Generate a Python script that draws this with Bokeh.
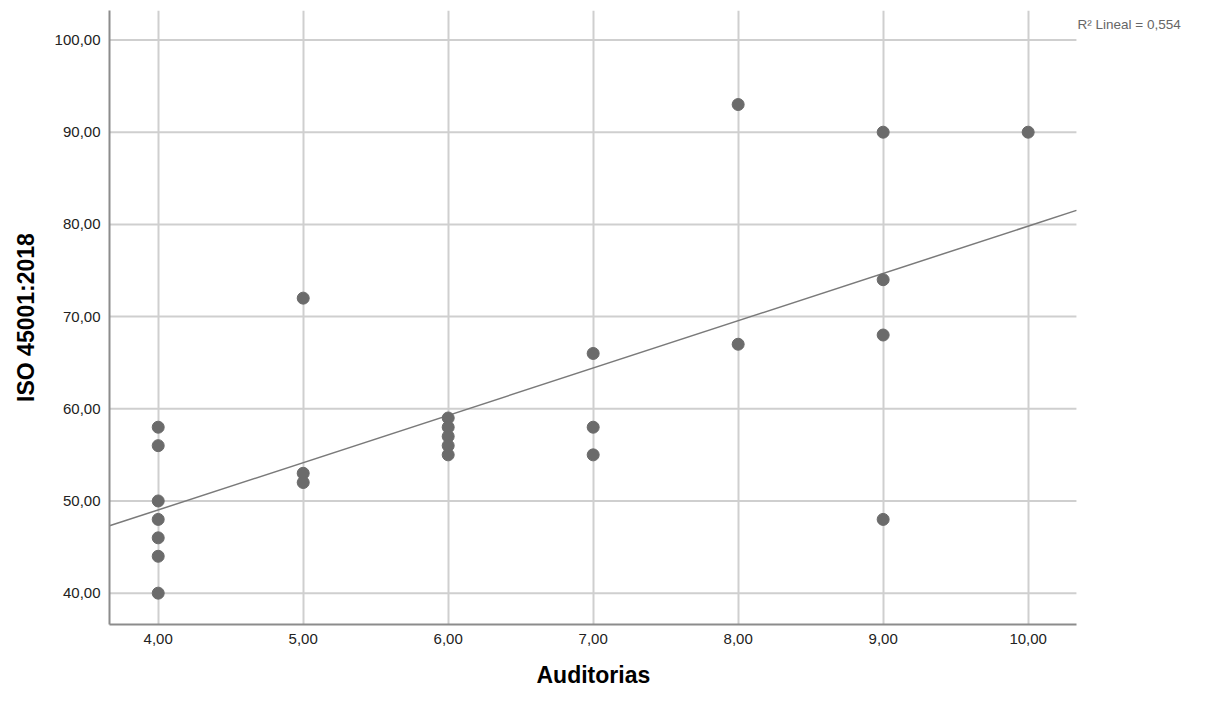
import numpy as np
from bokeh.plotting import figure
from bokeh.models import FixedTicker, CustomJSTickFormatter, Range1d, Label, Title
from bokeh.embed import file_html
from bokeh.resources import INLINE

auditorias = [4, 4, 4, 4, 4, 4, 4,
              5, 5, 5,
              6, 6, 6, 6, 6,
              7, 7, 7,
              8, 8,
              9, 9, 9, 9,
              10]
iso = [58, 56, 50, 48, 46, 44, 40,
       72, 53, 52,
       59, 58, 57, 56, 55,
       66, 58, 55,
       93, 67,
       90, 74, 68, 48,
       90]
x_ticks = [4, 5, 6, 7, 8, 9, 10]
y_ticks = [40, 50, 60, 70, 80, 90, 100]
r2_text = "R\u00b2 Lineal = 0,554"
x_title = "Auditorias"
y_title = "ISO 45001:2018"

FONT = "Liberation Sans"
X_LO, X_HI = 3.664, 10.333      # extent of the plotted axis
Y_LO, Y_HI = 36.6, 103.2

# frame runs to the right page edge so the R² note can sit inside it
p = figure(width=1207, height=701, output_backend="svg", toolbar_location=None,
           x_range=Range1d(X_LO, 11.237), y_range=Range1d(Y_LO, Y_HI),
           min_border_left=109, min_border_right=0, min_border_top=10, min_border_bottom=76)
p.outline_line_color = None
p.background_fill_color = "white"
p.border_fill_color = "white"

fmt = CustomJSTickFormatter(code="return tick.toFixed(2).replace('.', ',');")
for ax, ticks in ((p.xaxis, x_ticks), (p.yaxis, y_ticks)):
    ax.ticker = FixedTicker(ticks=ticks)
    ax.formatter = fmt
    ax.major_tick_in = 0
    ax.major_tick_out = 0
    ax.minor_tick_in = 0
    ax.minor_tick_out = 0
    ax.axis_line_color = "#8c8c8c"
    ax.axis_line_width = 2
    ax.major_label_text_font = FONT
    ax.major_label_text_font_size = "15px"
    ax.major_label_text_color = "#222222"
    ax.axis_label_text_font = FONT
    ax.axis_label_text_font_size = "23px"
    ax.axis_label_text_font_style = "bold"
    ax.axis_label_text_color = "#000000"

p.xaxis.bounds = (X_LO, X_HI)
p.xaxis.major_label_standoff = 9
p.yaxis.axis_label = y_title
p.yaxis.major_label_standoff = 9
p.yaxis.axis_label_standoff = 13

# x title as a below-panel title, centred under the axis extent (109..1076 px)
xt = Title(text=x_title, align="left", offset=427, standoff=27,
           text_font=FONT, text_font_size="23px", text_font_style="bold",
           text_color="#000000")
p.add_layout(xt, "below")

p.xgrid.ticker = FixedTicker(ticks=x_ticks)
p.xgrid.grid_line_color = "#cfcfcf"
p.xgrid.grid_line_width = 2
p.ygrid.visible = False
# horizontal grid lines limited to the axis extent
n = len(y_ticks)
p.segment(x0=[X_LO] * n, y0=y_ticks, x1=[X_HI] * n, y1=y_ticks,
          line_color="#cfcfcf", line_width=2)

# linear fit line
xa = np.array(auditorias, dtype=float)
ya = np.array(iso, dtype=float)
slope, intercept = np.polyfit(xa, ya, 1)
xl = np.array([X_LO, X_HI])
p.line(xl, intercept + slope * xl, line_color="#7a7a7a", line_width=1.5)

p.scatter(auditorias, iso, size=12, fill_color="#6b6b6b", line_color="#6b6b6b")

lab = Label(x=968, y=600, x_units="screen", y_units="screen", text=r2_text,
            text_font=FONT, text_font_size="13.5px", text_color="#666666",
            text_baseline="middle", text_align="left")
p.add_layout(lab)

open("out.html", "w").write(file_html(p, INLINE))
